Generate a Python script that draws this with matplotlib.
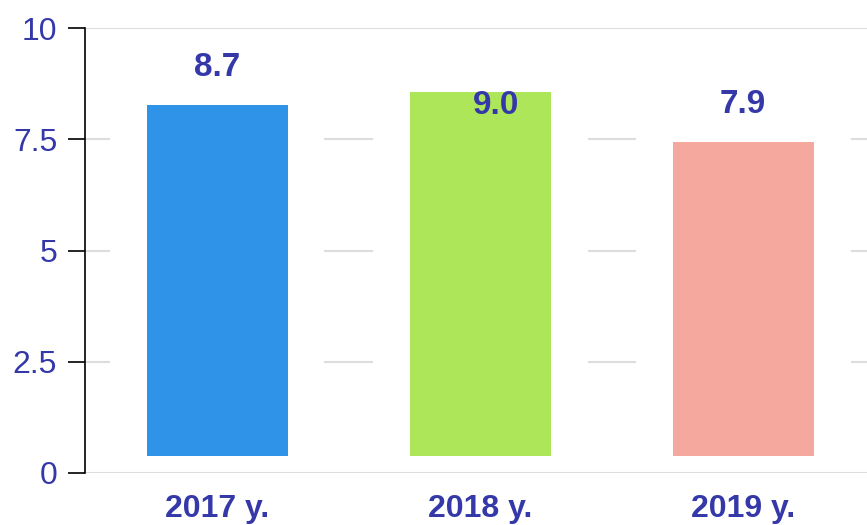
import matplotlib
matplotlib.use("Agg")
import matplotlib.pyplot as plt
import numpy as np

# ---- data ----
categories = ["2017 y.", "2018 y.", "2019 y."]
label_texts = ["8.7", "9.0", "7.9"]
bar_tops = [8.27, 8.56, 7.44]        # drawn bar tops
bar_base = 0.39
label_y = [9.12, 8.26, 8.28]          # label centre heights as read
label_dx = [0.0, 0.06, 0.0]
colors = ["#2F93E8", "#AEE65A", "#F5A89D"]
yticks = [0, 2.5, 5, 7.5, 10]
ytick_labels = ["0", "2.5", "5", "7.5", "10"]

text_color = "#3538A8"
plt.rcParams['font.family'] = ['Liberation Sans', 'DejaVu Sans']

fig = plt.figure(figsize=(8.67, 5.25), dpi=100)
ax = fig.add_axes([85/867, 52/525, (867-85)/867, 445/525])

x = np.arange(len(categories))
heights = np.array(bar_tops) - bar_base
ax.bar(x, heights, bottom=bar_base, width=0.536, color=colors, zorder=3)

ax.set_xlim(-0.502, 2.471)
ax.set_ylim(0, 10)

# gridline segments in gaps between bars
seg = 0.183
for yv in [2.5, 5, 7.5]:
    for g in np.arange(-0.5, len(categories) + 0.5, 1.0):
        ax.plot([g - seg/2, g + seg/2], [yv, yv], color="#DDDDDD", lw=1.5,
                zorder=1, solid_capstyle='butt', clip_on=True)
for yv in [0, 10]:
    ax.axhline(yv, color="#DDDDDD", lw=1.5, zorder=1)

for xi, t, ly, dx in zip(x, label_texts, label_y, label_dx):
    ax.text(xi + dx, ly, t, ha='center', va='center', fontsize=24,
            fontweight='bold', color=text_color, zorder=4)

for s in ["top", "right", "bottom"]:
    ax.spines[s].set_visible(False)
ax.spines["left"].set_color("black")
ax.spines["left"].set_linewidth(1.2)

ax.set_yticks(yticks)
ax.set_yticklabels(ytick_labels)
ax.tick_params(axis='y', length=12, width=1.2, color='black', pad=8,
               labelsize=23, labelcolor=text_color)
ax.set_xticks(x)
ax.set_xticklabels(categories, fontweight='bold')
ax.tick_params(axis='x', length=0, pad=15, labelsize=23, labelcolor=text_color)

fig.savefig("out.png", dpi=100)
